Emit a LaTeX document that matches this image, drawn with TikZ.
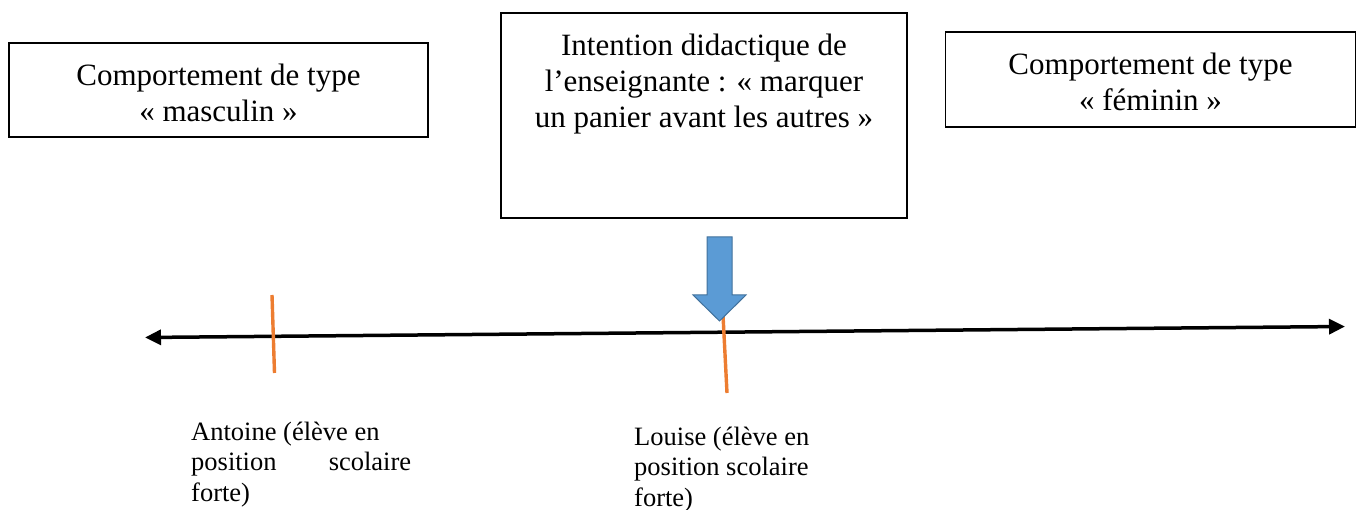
\documentclass[tikz,border=0pt]{standalone}
\usepackage{fontspec}
\setmainfont{Liberation Serif}
\usetikzlibrary{arrows.meta}
\definecolor{tickorange}{HTML}{ED7D31}
\definecolor{arrowblue}{HTML}{5B9BD5}
\definecolor{arrowedge}{HTML}{41719C}
\tikzset{
  box/.style={draw=black, line width=1.4pt, inner sep=0pt},
  bigtext/.style={font=\fontsize{31}{36}\selectfont, align=center, inner sep=0pt},
  smalltext/.style={font=\fontsize{26.5}{30.5}\selectfont, align=left, inner sep=0pt, anchor=north west},
  axisline/.style={line width=3.5pt, {Triangle[length=16pt,width=15pt]}-{Triangle[length=16pt,width=15pt]}},
  tick/.style={draw=tickorange, line width=3.4pt},
}
\begin{document}
\begin{tikzpicture}[x=1pt,y=-1pt]
\useasboundingbox (0,0) rectangle (1357,510);
% boxes
\node[box, minimum width=419pt, minimum height=94pt] (masc) at (218.5,90) {};
\node[bigtext] (masctxt) at (218.5,92.5) {Comportement de type\\« masculin »};
\node[box, minimum width=406pt, minimum height=205pt] (intent) at (704,115.5) {};
\node[bigtext] (intenttxt) at (704,84.5) {Intention didactique de\\l’enseignante : « marquer\\un panier avant les autres »};
\node[box, minimum width=410pt, minimum height=95pt] (fem) at (1150.5,79.5) {};
\node[bigtext] (femtxt) at (1150.5,82) {Comportement de type\\« féminin »};
% axis
\coordinate (axL) at (145,337.5);
\coordinate (axR) at (1345,326.5);
\draw[axisline] (axL) -- (axR);
% ticks
\coordinate (aTop) at (272,295);
\coordinate (aBot) at (274.5,373);
\draw[tick] (aTop) -- (aBot);
\coordinate (lTop) at (723,315);
\coordinate (lBot) at (727,393);
\draw[tick] (lTop) -- (lBot);
% blue arrow
\draw[fill=arrowblue, draw=arrowedge, line width=1pt]
  (707,237) -- (732,237) -- (732,295) -- (746,295) -- (719.5,321) -- (693,295) -- (707,295) -- cycle;
% labels
\node[smalltext] (antoine) at (191,421.5) {Antoine (élève en\\\hbox to 220pt{position\hfill scolaire}\\forte)};
\node[smalltext] (louise) at (634,426.5) {Louise (élève en\\position scolaire\\forte)};
\end{tikzpicture}
\end{document}
